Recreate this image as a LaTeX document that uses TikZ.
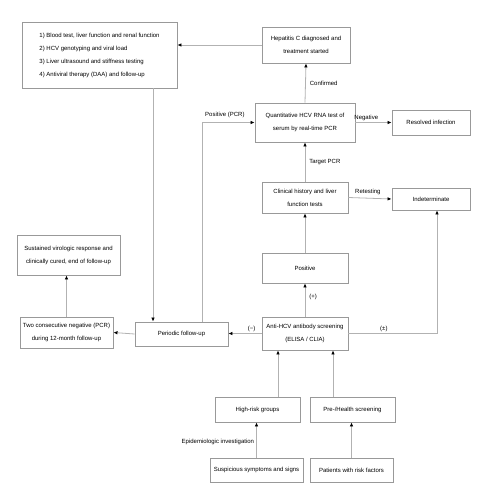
\documentclass[tikz,border=0pt]{standalone}
\usepackage{fontspec}
\setmainfont{Liberation Sans}
\usetikzlibrary{arrows.meta}

\begin{document}
\begin{tikzpicture}[
  x=1pt, y=-1pt,
  >={Latex[length=4pt,width=3.6pt,color=black]},
  box/.style={draw=black!40, line width=0.9pt, inner sep=1pt, align=center,
              font=\fontsize{6}{13}\selectfont},
  conn/.style={->, draw=black!30, line width=0.8pt},
  lbl/.style={font=\fontsize{6}{7}\selectfont, inner sep=1pt},
]
  \useasboundingbox (0,0) rectangle (500,500);

  % --- upper part ---
  \node[box, align=left, minimum width=155pt, minimum height=66pt] (care) at (99.5,55)
    {1) Blood test, liver function and renal function\\
     2) HCV genotyping and viral load\\
     3) Liver ultrasound and stiffness testing\\
     4) Antiviral therapy (DAA) and follow-up};
  \node[box, minimum width=88pt, minimum height=36pt] (diag) at (306,45)
    {Hepatitis C diagnosed and\\ treatment started};
  \node[box, minimum width=100pt, minimum height=39pt] (rna) at (305,122.5)
    {Quantitative HCV RNA test of\\ serum by real-time PCR};
  \node[box, minimum width=78pt, minimum height=25pt] (past) at (431,122.5)
    {Resolved infection};
  \node[box, minimum width=86pt, minimum height=31pt] (clin) at (305,197.5)
    {Clinical history and liver\\ function tests};
  \node[box, minimum width=78pt, minimum height=22pt] (indet) at (431,199)
    {Indeterminate};

  % --- middle part ---
  \node[box, minimum width=86pt, minimum height=30pt] (pos) at (305,268) {Positive};
  \node[box, minimum width=86pt, minimum height=33pt] (elisa) at (305,333.5)
    {Anti-HCV antibody screening\\ (ELISA / CLIA)};
  \node[box, minimum width=93pt, minimum height=24pt] (follow) at (181.5,334)
    {Periodic follow-up};
  \node[box, minimum width=93pt, minimum height=31pt] (twoneg) at (66.5,332.5)
    {Two consecutive negative (PCR)\\ during 12-month follow-up};
  \node[box, minimum width=103pt, minimum height=40pt] (cured) at (68.5,255)
    {Sustained virologic response and\\ clinically cured, end of follow-up};

  % --- lower part ---
  \node[box, minimum width=85pt, minimum height=25pt] (risk) at (257.5,409.5) {High-risk groups};
  \node[box, minimum width=85pt, minimum height=25pt] (screen) at (352.5,409.5) {Pre-/Health screening};
  \node[box, minimum width=93pt, minimum height=24pt] (sympt) at (256.5,470)
    {Suspicious symptoms and signs};
  \node[box, minimum width=83pt, minimum height=24pt] (expo) at (351.5,470)
    {Patients with risk factors};

  % --- connectors ---
  \coordinate (pcrturn) at ([xshift=20.5pt]follow.north |- rna.west);
  \draw[conn] (diag.west) -- (diag.west -| care.east);
  \draw[conn] (rna.north) -- node[lbl, right=3pt] {Confirmed} (diag.south);
  \draw[conn] ([xshift=20.5pt]follow.north) -- (pcrturn) -- (rna.west);
  \node[lbl, anchor=south west] (posl) at ([xshift=2pt,yshift=4pt]pcrturn) {Positive (PCR)};
  \draw[conn] (rna.east) -- node[lbl, above, pos=0.3] {Negative} (past.west);
  \draw[conn] (clin.north) -- node[lbl, right=3pt] {Target PCR} (rna.south);
  \draw[conn] (clin.east) -- node[lbl, above=2pt, pos=0.45] {Retesting} (indet.west);
  \draw[conn] (pos.north) -- (clin.south);
  \draw[conn] (elisa.north) -- node[lbl, right=3pt, pos=0.6] {(+)} (pos.south);
  \draw[conn] (elisa.west) -- node[lbl, above, pos=0.3] {(−)} (elisa.west -| follow.east);
  \draw[conn] (elisa.east) -| node[lbl, above, pos=0.2] {(±)} ([xshift=6pt]indet.south);
  \draw[conn] ([xshift=-28.5pt]follow.north |- care.south) -- ([xshift=-28.5pt]follow.north);
  \draw[conn] (follow.west) -- (twoneg.east);
  \draw[conn] (twoneg.north) -- (cured.south -| twoneg.north);
  \draw[conn] ([xshift=-27pt]elisa.south |- risk.north) -- ([xshift=-27pt]elisa.south);
  \draw[conn] ([xshift=28pt]elisa.south |- screen.north) -- ([xshift=28pt]elisa.south);
  \draw[conn] (sympt.north) -- node[lbl, left=1pt, pos=0.45] {Epidemiologic investigation} (risk.south -| sympt.north);
  \draw[conn] (expo.north) -- (screen.south -| expo.north);

\end{tikzpicture}
\end{document}
